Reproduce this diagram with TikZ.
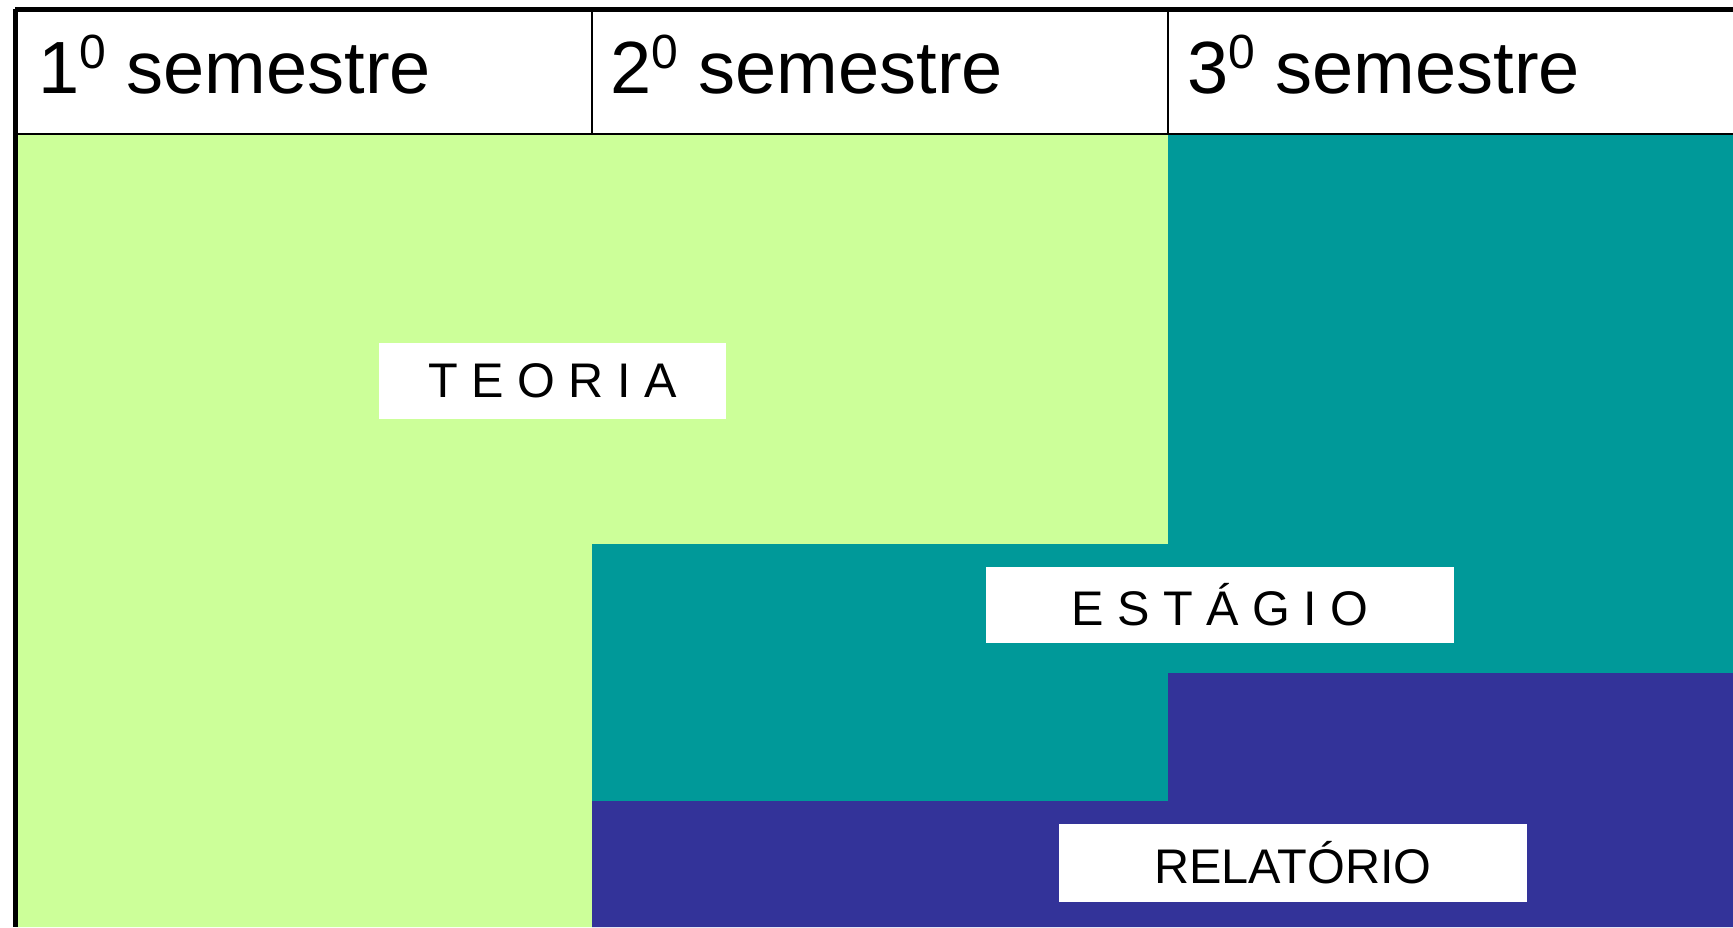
\documentclass[tikz,border=0pt]{standalone}
\usepackage{fontspec}
\setmainfont{Liberation Sans}
\usepackage{tikz}

\definecolor{teoriagreen}{HTML}{CCFF99}
\definecolor{estagioteal}{HTML}{009999}
\definecolor{relatoriopurple}{HTML}{333399}

\newcommand{\ordsup}[1]{\raisebox{0.33em}{\fontsize{24}{24}\selectfont #1}}

\begin{document}
\begin{tikzpicture}[x=0.5pt, y=-0.5pt,
    semtext/.style={anchor=base west, inner sep=0pt, font=\fontsize{37}{44}\selectfont},
    labelbox/.style={fill=white, inner sep=0pt, minimum width=234pt, minimum height=38pt, font=\fontsize{24.3}{29}\selectfont}]
    \useasboundingbox[fill=white] (0,0) rectangle (1733,927);

    % Periods
    \fill[teoriagreen] (15,134) -- (1168,134) -- (1168,544) -- (592,544) -- (592,927) -- (15,927) -- cycle;
    \fill[estagioteal] (1168,134) -- (1733,134) -- (1733,673) -- (1168,673) -- (1168,801) -- (592,801) -- (592,544) -- (1168,544) -- cycle;
    \fill[relatoriopurple] (1168,673) -- (1733,673) -- (1733,927) -- (592,927) -- (592,801) -- (1168,801) -- cycle;

    % Table header
    \draw[line width=2.5pt] (15,9) -- (1733,9);
    \draw[line width=2.5pt] (15,9) -- (15,927);
    \draw[line width=1.3pt] (15,134) -- (1733,134);
    \draw[line width=0.9pt] (592,9) -- (592,134);
    \draw[line width=0.9pt] (1168,9) -- (1168,134);

    \node (sem1) at (38,93) [semtext] {1\ordsup{0} semestre};
    \node (sem2) at (610,93) [semtext] {2\ordsup{0} semestre};
    \node (sem3) at (1187,93) [semtext] {3\ordsup{0} semestre};

    % Labels
    \node (teoria) at (552.5,381) [labelbox, minimum width=173.5pt] {T E O R I A};
    \node (estagio) at (1220,605) [labelbox] {E S T Á G I O};
    \node (relatorio) at (1293,863) [labelbox, minimum height=39pt] {RELATÓRIO};
\end{tikzpicture}
\end{document}
